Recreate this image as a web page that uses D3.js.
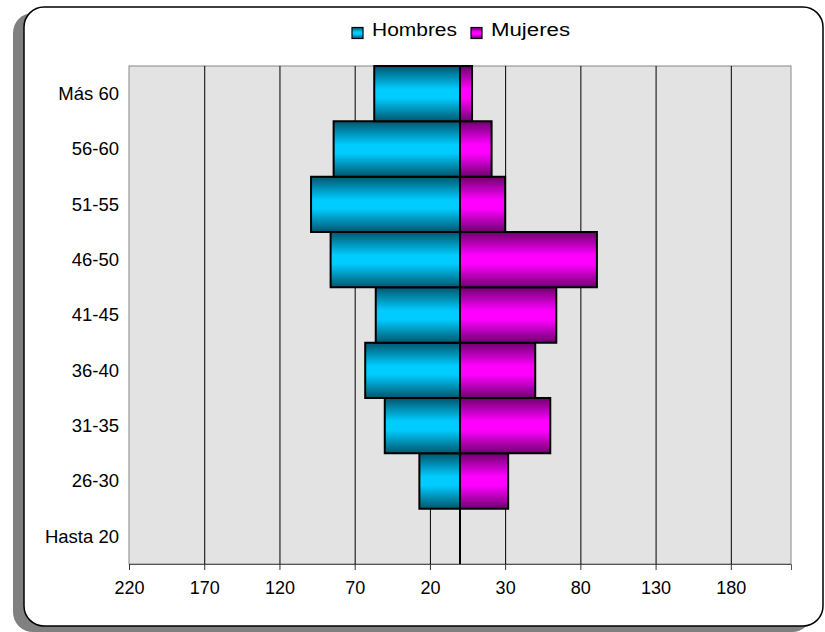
<!DOCTYPE html>
<html lang="es">
  <head>
    <meta charset="utf-8">
    <title>Pirámide por edades</title>
    <style>
        body {
            margin: 0;
            background: #fff;
        }
        svg {
            display: block;
            font-family: "Liberation Sans", Arial, sans-serif;
        }
    </style>
    <script src="https://d3js.org/d3.v7.min.js"></script>
  </head>
  <body>
    <script>

    const categories = ["Hasta 20","26-30","31-35","36-40","41-45","46-50","51-55","56-60","Más 60"];
    const hombres = [0, 27, 50, 63, 56, 86, 99, 84, 57];
    const mujeres = [0, 32, 60, 50, 64, 91, 30, 21, 8];
    const tickValues = [-220, -170, -120, -70, -20, 30, 80, 130, 180];

    const W = 825, H = 632;
    const plot = { left: 129, right: 791, top: 66, bottom: 564 };

    const svg = d3.select("body")
        .append("svg")
        .attr("width", W)
        .attr("height", H);

    const defs = svg.append("defs");

    function gradient(id, edge, mid) {
        const g = defs.append("linearGradient")
            .attr("id", id)
            .attr("x1", 0).attr("y1", 0)
            .attr("x2", 0).attr("y2", 1);
        g.append("stop").attr("offset", "0%").attr("stop-color", edge);
        g.append("stop").attr("offset", "42%").attr("stop-color", mid);
        g.append("stop").attr("offset", "58%").attr("stop-color", mid);
        g.append("stop").attr("offset", "100%").attr("stop-color", edge);
    }
    gradient("gH", "#00566e", "#00ccff");
    gradient("gM", "#6e006e", "#ff00ff");

    // frame with shadow
    svg.append("rect")
        .attr("x", 13).attr("y", 13)
        .attr("width", 799).attr("height", 619)
        .attr("rx", 20).attr("ry", 20)
        .attr("fill", "#808080");

    svg.append("rect")
        .attr("x", 24).attr("y", 7)
        .attr("width", 799).attr("height", 619)
        .attr("rx", 20).attr("ry", 20)
        .attr("fill", "#fff")
        .attr("stroke", "#000")
        .attr("stroke-width", 1.5);

    const x = d3.scaleLinear()
        .domain([-220, 220])
        .range([plot.left, plot.right]);

    const y = d3.scaleBand()
        .domain(categories.slice().reverse())
        .range([plot.top, plot.bottom])
        .padding(0);

    // plot area
    svg.append("rect")
        .attr("x", plot.left).attr("y", plot.top)
        .attr("width", plot.right - plot.left)
        .attr("height", plot.bottom - plot.top)
        .attr("fill", "#e3e3e3")
        .attr("stroke", "#888")
        .attr("stroke-width", 1);

    // gridlines
    svg.append("g")
        .attr("transform", `translate(0,${plot.bottom})`)
        .call(d3.axisBottom(x).tickValues(tickValues.slice(1)).tickSize(-(plot.bottom - plot.top)).tickFormat(""))
        .call(g => g.select(".domain").remove())
        .call(g => g.selectAll("line").attr("stroke", "#000").attr("stroke-width", 1));

    // bars drawn as paths so a zero value still shows its outline
    const barPath = (v0, v1, cat) => {
        const x0 = x(v0), x1 = x(v1), y0 = y(cat), h = y.bandwidth();
        return `M${x0},${y0}H${x1}V${y0 + h}H${x0}Z`;
    };

    svg.append("g")
        .selectAll("path")
        .data(categories)
        .join("path")
        .attr("d", (d, i) => barPath(-hombres[i], 0, d))
        .attr("fill", "url(#gH)")
        .attr("stroke", "#000")
        .attr("stroke-width", 2);

    svg.append("g")
        .selectAll("path")
        .data(categories)
        .join("path")
        .attr("d", (d, i) => barPath(0, mujeres[i], d))
        .attr("fill", "url(#gM)")
        .attr("stroke", "#000")
        .attr("stroke-width", 2);

    // x axis
    svg.append("g")
        .attr("transform", `translate(0,${plot.bottom})`)
        .call(d3.axisBottom(x).tickValues(tickValues).tickSize(6).tickPadding(11).tickFormat(d => Math.abs(d)))
        .call(g => g.select(".domain").attr("stroke", "#555"))
        .call(g => g.selectAll(".tick line").attr("stroke", "#333"))
        .call(g => g.selectAll("text")
            .attr("fill", "#000")
            .style("font-size", "18px")
            .style("font-family", "'Liberation Sans', Arial, sans-serif"));

    // category labels
    svg.append("g")
        .selectAll("text")
        .data(categories)
        .join("text")
        .attr("x", 119)
        .attr("y", d => y(d) + y.bandwidth() / 2)
        .attr("dy", "0.35em")
        .attr("text-anchor", "end")
        .style("font-size", "18.5px")
        .text(d => d);

    // legend
    const legend = [
        { name: "Hombres", fill: "url(#gH)", x: 352, len: 85 },
        { name: "Mujeres", fill: "url(#gM)", x: 471, len: 79 }
    ];
    const lg = svg.append("g");
    lg.selectAll("rect")
        .data(legend)
        .join("rect")
        .attr("x", d => d.x)
        .attr("y", 27.5)
        .attr("width", 11)
        .attr("height", 11)
        .attr("fill", d => d.fill)
        .attr("stroke", "#000")
        .attr("stroke-width", 1.2);
    lg.selectAll("text")
        .data(legend)
        .join("text")
        .attr("x", d => d.x + 20)
        .attr("y", 36)
        .attr("textLength", d => d.len)
        .attr("lengthAdjust", "spacingAndGlyphs")
        .style("font-size", "17.5px")
        .text(d => d.name);

    </script>
  </body>
</html>
